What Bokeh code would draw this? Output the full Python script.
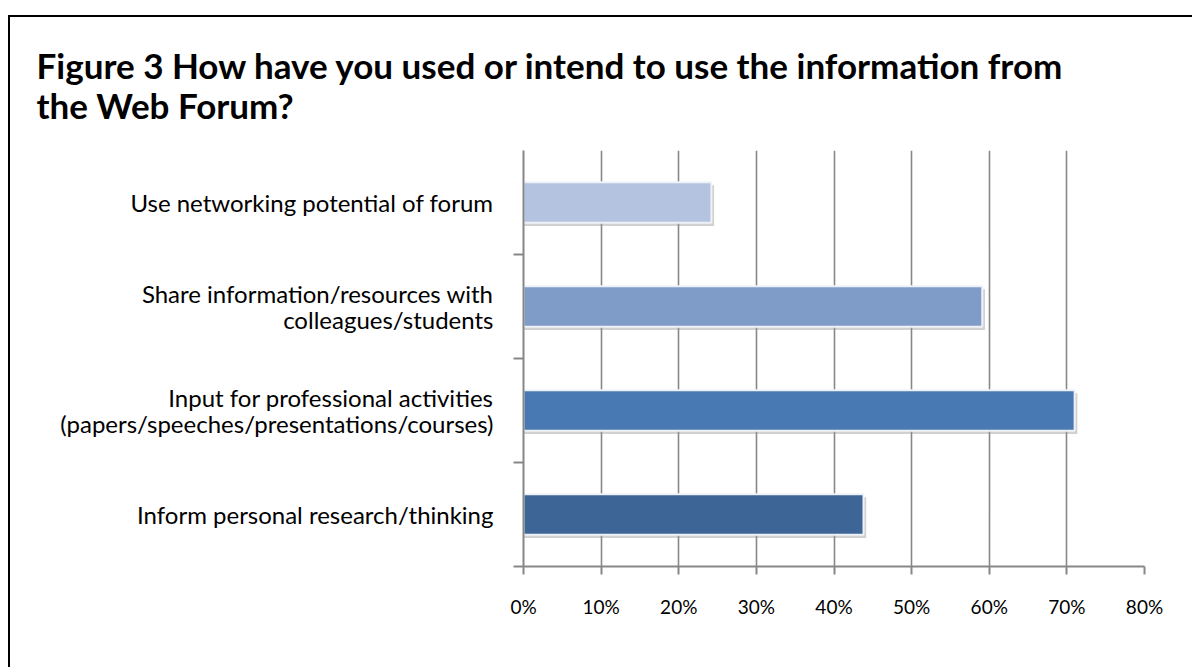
from bokeh.plotting import figure
from bokeh.models import Range1d, FixedTicker, ColumnDataSource, Title, Spacer
from bokeh.layouts import column, row
from bokeh.transform import dodge
from bokeh.embed import file_html
from bokeh.resources import INLINE

# ---- data (bottom to top) ----
categories = [
    "Inform personal research/thinking",
    "Input for professional activities\n(papers/speeches/presentations/courses)",
    "Share information/resources with\ncolleagues/students",
    "Use networking potential of forum",
]
values = [43.8, 71.0, 59.1, 24.2]
bar_colors = ["#3D6596", "#4879B2", "#7F9CC8", "#B4C3DF"]
x_ticks = [0, 10, 20, 30, 40, 50, 60, 70, 80]
x_tick_labels = ["0%", "10%", "20%", "30%", "40%", "50%", "60%", "70%", "80%"]
title_text = "Figure 3 How have you used or intend to use the information from\nthe Web Forum?"

FONT = "Lato"
GRAY = "#878787"

ypos = [i + 0.5 for i in range(len(categories))]
src = ColumnDataSource(dict(y=ypos, v=values, c=bar_colors, cat=categories))

p = figure(width=1182, height=650, x_range=Range1d(0, 80), y_range=Range1d(0, 4),
           output_backend="svg", toolbar_location=None,
           min_border_left=513, min_border_right=48, min_border_top=128, min_border_bottom=101)
p.outline_line_color = None
p.background_fill_color = "white"
p.border_fill_color = "white"

p.title = Title(text=title_text, align="left", offset=-487, standoff=48,
                text_font=FONT, text_font_size="35px", text_font_style="bold",
                text_color="black", text_line_height=0.97)

# shadow
p.hbar(y=dodge("y", -0.03, range=p.y_range), right=dodge("v", 0.35, range=p.x_range), left=0,
       height=0.39, source=src, fill_color="#9a9a9a", fill_alpha=0.45, line_color=None)
# bars
p.hbar(y="y", right="v", left=0, height=0.39, source=src, fill_color="c",
       line_color="#eef2f8", line_width=2)

# x axis
xa = p.xaxis[0]
xa.ticker = FixedTicker(ticks=x_ticks, minor_ticks=[])
xa.major_label_overrides = {t: l for t, l in zip(x_ticks, x_tick_labels)}
xa.axis_line_color = GRAY
xa.axis_line_width = 2
xa.major_tick_line_color = GRAY
xa.major_tick_line_width = 2
xa.major_tick_out = 8
xa.major_tick_in = 0
xa.major_label_standoff = 20
xa.major_label_text_font = FONT
xa.major_label_text_font_size = "19px"
xa.major_label_text_color = "black"

# y axis
ya = p.yaxis[0]
ya.ticker = FixedTicker(ticks=ypos, minor_ticks=[0, 1, 2, 3])
ya.major_label_overrides = {y: c for y, c in zip(ypos, categories)}
ya.axis_line_color = GRAY
ya.axis_line_width = 2
ya.major_tick_line_color = None
ya.major_tick_out = 0
ya.major_tick_in = 0
ya.minor_tick_line_color = GRAY
ya.minor_tick_line_width = 2
ya.minor_tick_out = 10
ya.minor_tick_in = 0
ya.major_label_standoff = 20
ya.major_label_text_font = FONT
ya.major_label_text_font_size = "24px"
ya.major_label_text_color = "black"
ya.major_label_text_line_height = 0.92

# grid
p.xgrid.ticker = FixedTicker(ticks=x_ticks)
p.xgrid.grid_line_color = GRAY
p.xgrid.grid_line_width = 1.6
p.ygrid.grid_line_color = None

# chart border (left and top edges visible in the window)
top_line = Spacer(width=1184, height=2, styles={"background-color": "black"})
left_line = Spacer(width=2, height=650, styles={"background-color": "black"})
layout = column(Spacer(width=8, height=15),
                row(Spacer(width=8, height=10), column(top_line, row(left_line, p))))

open("out.html", "w").write(file_html(layout, INLINE))
